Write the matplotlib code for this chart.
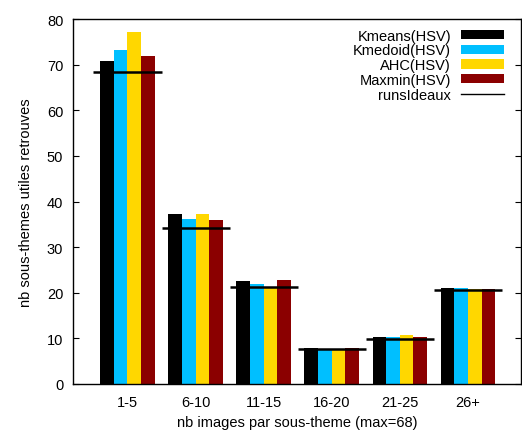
import matplotlib
matplotlib.use("Agg")
import matplotlib.pyplot as plt
from matplotlib.patches import Patch
from matplotlib.lines import Line2D
import numpy as np

plt.rcParams['font.family'] = ['Liberation Sans', 'DejaVu Sans']

categories = ["1-5", "6-10", "11-15", "16-20", "21-25", "26+"]
kmeans = [70.9, 37.3, 22.5, 8.0, 10.4, 21.0]
kmedoid = [73.3, 36.2, 21.9, 7.5, 10.4, 21.0]
ahc = [77.1, 37.3, 21.0, 7.5, 10.7, 20.8]
maxmin = [72.0, 35.9, 22.8, 8.0, 10.2, 20.75]
runs_ideaux = [68.3, 34.1, 21.2, 7.7, 9.9, 20.5]

series = [("Kmeans(HSV)", kmeans, "#000000"),
          ("Kmedoid(HSV)", kmedoid, "#00BFFF"),
          ("AHC(HSV)", ahc, "#FFD700"),
          ("Maxmin(HSV)", maxmin, "#8B0000")]

FS = 10.5

fig = plt.figure(figsize=(5.22, 4.31), dpi=100)
ax = fig.add_axes([73/522, 46/431, 448/522, 365/431])

x = np.arange(len(categories))
w = 0.2
handles = []
for i, (name, vals, col) in enumerate(series):
    ax.bar(x + (i - 1.5) * w, vals, width=w, color=col, edgecolor="none")
    handles.append(Patch(facecolor=col, edgecolor="none", label=name))

ax.hlines(runs_ideaux, x - 0.5, x + 0.5, colors="black", linewidth=1.8)
handles.append(Line2D([], [], color="black", linewidth=1, label="runsIdeaux"))

ax.set_xlim(-0.8, 5.78)
ax.set_ylim(0, 80)
ax.set_xticks(x)
ax.set_xticklabels(categories)
ax.set_yticks(np.arange(0, 81, 10))
ax.tick_params(direction="in", length=4.3, width=0.8, top=True, right=True,
               labelsize=FS, pad=7)
ax.tick_params(axis="x", length=0, pad=8)
ax.set_xlabel("nb images par sous-theme (max=68)", fontsize=FS, labelpad=4)
ax.set_ylabel("nb sous-themes utiles retrouves", fontsize=FS, labelpad=10)
for s in ax.spines.values():
    s.set_linewidth(1)

ax.legend(handles=handles, loc="upper right", frameon=False, markerfirst=False,
          fontsize=FS, handlelength=2.95, handleheight=0.6, labelspacing=0.05,
          borderaxespad=0.5, borderpad=0.3, handletextpad=0.7,
          bbox_to_anchor=(1 - 5/448, 1 + 2/365))

fig.savefig("out.png", dpi=100)
